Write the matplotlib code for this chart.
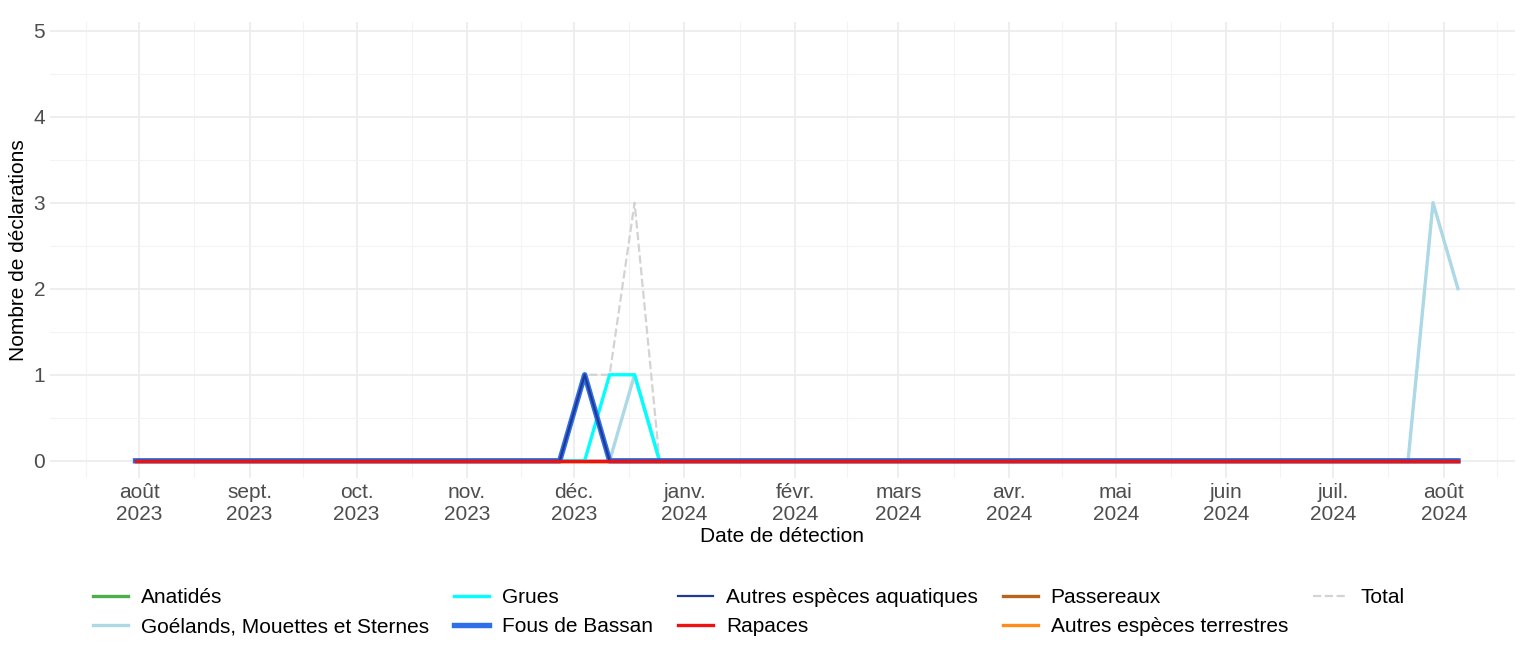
import numpy as np
import pandas as pd
import matplotlib as mpl
mpl.use('Agg')
import matplotlib.pyplot as plt

mpl.rcParams.update({'font.family': 'Liberation Sans', 'font.size': 15})

# weekly dates (Monday), 31 Jul 2023 -> 5 Aug 2024
weeks = pd.date_range('2023-07-31', '2024-08-05', freq='7D')
n = len(weeks)

def serie(points):
    v = np.zeros(n)
    for d, val in points.items():
        v[weeks.get_loc(pd.Timestamp(d))] = val
    return v

anatides = serie({})
goelands = serie({'2023-12-18': 1, '2024-07-29': 3, '2024-08-05': 2})
grues = serie({'2023-12-11': 1, '2023-12-18': 1})
fous = serie({'2023-12-04': 1})
autres_aqua = serie({'2023-12-04': 1})
rapaces = serie({})
passereaux = serie({})
autres_terr = serie({})
total = serie({'2023-12-04': 1, '2023-12-11': 1, '2023-12-18': 3,
               '2024-07-29': 3, '2024-08-05': 2})

month_ticks = pd.date_range('2023-08-01', '2024-08-01', freq='MS')
month_labels = ['août\n2023', 'sept.\n2023', 'oct.\n2023', 'nov.\n2023', 'déc.\n2023',
                'janv.\n2024', 'févr.\n2024', 'mars\n2024', 'avr.\n2024', 'mai\n2024',
                'juin\n2024', 'juil.\n2024', 'août\n2024']

fig = plt.figure(figsize=(15.38, 6.58), dpi=100)
ax = fig.add_axes([50/1538, 1-478/658, 1465/1538, 456/658])

lw = 2.4
h_tot, = ax.plot(weeks, total, color='#d3d3d3', ls='--', lw=1.6, label='Total')
h_an, = ax.plot(weeks, anatides, color='#4daf4a', lw=lw, label='Anatidés')
h_pa, = ax.plot(weeks, passereaux, color='#b8651b', lw=lw, label='Passereaux')
h_at, = ax.plot(weeks, autres_terr, color='#ff8c1a', lw=lw, label='Autres espèces terrestres')
h_go, = ax.plot(weeks, goelands, color='#add8e6', lw=lw, label='Goélands, Mouettes et Sternes')
h_gr, = ax.plot(weeks, grues, color='#00ffff', lw=lw, label='Grues')
h_fo, = ax.plot(weeks, fous, color='#2f6fe8', lw=lw + 1.5, label='Fous de Bassan')
h_aa, = ax.plot(weeks, autres_aqua, color='#1f3a93', lw=lw - 0.8, label='Autres espèces aquatiques')
h_ra, = ax.plot(weeks, rapaces, color='#ee1111', lw=lw, label='Rapaces')

ax.set_xlim(pd.Timestamp('2023-07-07'), pd.Timestamp('2024-08-21'))
ax.set_ylim(-0.2, 5.1)
ax.set_yticks(range(6))
ax.set_yticks(np.arange(0.5, 5, 1), minor=True)
ax.set_xticks(month_ticks)
ax.set_xticklabels(month_labels)
mid = [month_ticks[i] + (month_ticks[i+1]-month_ticks[i])/2 for i in range(len(month_ticks)-1)]
mid = [month_ticks[0] - pd.Timedelta(days=15)] + mid + [month_ticks[-1] + pd.Timedelta(days=15)]
ax.set_xticks(mid, minor=True)
ax.tick_params(axis='both', which='both', length=0, labelsize=15, colors='#4d4d4d')
ax.grid(True, which='major', color='#ebebeb', lw=1.2)
ax.grid(True, which='minor', color='#f3f3f3', lw=0.8)
ax.set_axisbelow(True)
for s in ax.spines.values():
    s.set_visible(False)
ax.set_xlabel('Date de détection', fontsize=15, labelpad=2)
ax.set_ylabel('Nombre de déclarations', fontsize=15)

handles = [h_an, h_go, h_gr, h_fo, h_aa, h_ra, h_pa, h_at, h_tot]
fig.legend(handles=handles, labels=[h.get_label() for h in handles], ncol=5,
           loc='upper center', bbox_to_anchor=(0.487, 0.135), frameon=False,
           fontsize=15, handlelength=1.7, columnspacing=1.2, labelspacing=0.5,
           handletextpad=0.6)

fig.savefig('out.png', dpi=100)
